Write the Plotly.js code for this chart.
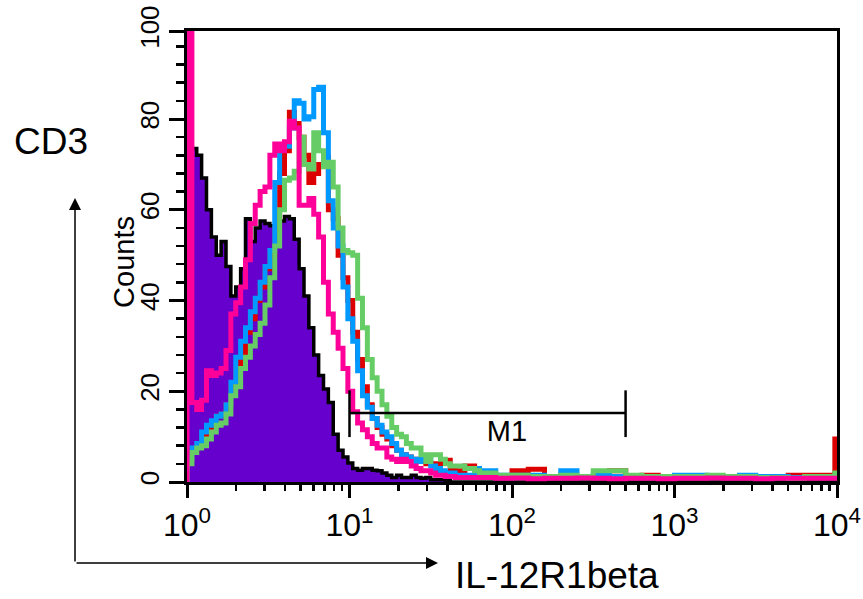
<!DOCTYPE html>
<html>
<head>
<meta charset="utf-8">
<script src="https://cdn.plot.ly/plotly-3.0.1.min.js"></script>
<style>html,body{margin:0;padding:0;background:#fff;}#chart{width:863px;height:599px;}</style>
</head>
<body>
<div id="chart"></div>
<script>
// Histogram bin left edges (fluorescence channel values, log axis)
const binEdges = [1.000,1.072,1.148,1.230,1.318,1.413,1.514,1.622,1.738,1.862,
  1.995,2.138,2.291,2.455,2.630,2.818,3.020,3.236,3.467,3.715,
  3.981,4.266,4.571,4.898,5.248,5.623,6.026,6.457,6.918,7.413,
  7.943,8.511,9.120,9.772,10.47,11.22,12.02,12.88,13.80,14.79,
  15.85,16.98,18.20,19.50,20.89,22.39,23.99,25.70,27.54,29.51,
  31.62,33.88,36.31,38.90,41.69,44.67,47.86,51.29,54.95,58.88,
  63.10,79.43,100.0,125.9,158.5,199.5,251.2,316.2,398.1,501.2,
  631.0,794.3,1000,1259,1585,1995,2512,3162,3981,5012,
  6310,7943,9700];
const axisEnd = 10000;

// Counts per bin for each histogram
const isotypeCounts = [74,73.5,72,67,60,54,50,53,47.5,41,
  43,47,58,53,56,57.5,57,56.5,57,57.5,
  58.5,58,53.5,47,41,34,28,23.5,20.5,17.5,
  10.5,7,5.5,4.2,3,2.6,3,3,2.6,2.5,
  2,1.5,1,1.5,1,1,1.5,1,0.8,1,
  0.5,0.5,0.5,0.3,0,0,0,0,0,0,
  0,0,0,0,0,0,0,0,0,0,
  0,0,0,0,0,0,0,0,0,0,
  0,0,0];
const redCounts = [5,7,8,10,11.5,13,14.5,15,17,21,
  25,28,33,36,40,43,47,50,56,68,
  73,81.5,79,76,72,66,68,70,71.5,60,
  58,50,45,40,33,27,21,17,14,12,
  10.5,9.5,8,7,6,5.5,5,5,4.5,4,
  4,4,4.5,4.8,3,2.5,2.5,3.5,3.5,2,
  1.5,1.2,2.5,2.8,1.2,1.2,1.2,1.2,2.5,1.2,
  1.5,1,1,1,1,1,1,1,1.2,1.5,
  1.5,1.5,9.5];
const blueCounts = [5,7.5,8.5,11,12.5,13.5,14.5,15,17,22,
  27.5,31,34,37.5,40.5,44,47.5,51,66,74,
  74,78,84,83.5,80,80.5,86.5,87,77,62,
  56,52,43,36,31,24.5,19,16.5,14,12.5,
  11,10,8.5,7,6,5.5,5,4.5,5,5,
  3.5,3,2.5,2,2,1.5,1.5,1.5,1.5,3,
  2.5,1.5,1.5,1.5,1.2,2.5,1.2,1.5,1.2,1.2,
  1.2,1.2,1.5,1.5,1.2,1.2,1.5,1.2,1.2,1,
  1,1,1];
const greenCounts = [4,6.5,7.5,8,9.5,11,12.5,13,15,19,
  21,25,27.5,30,32.5,35,39,45,52,60,
  66.5,67,68.5,76,70,69,77,73,69.5,70.5,
  65,56,51,50.5,50,40.5,34,27,23,20,
  17,14.5,12,10.5,10,8.5,7.5,7.5,6,4.5,
  6,6,5,4,3.5,3.5,3.5,3,3,2.5,
  2,1.5,1.5,1.2,1.2,1.5,1.2,2.5,2.5,1.5,
  1.2,1.2,1.2,1.2,1.5,1.2,1.2,1,1,0.8,
  1.2,1.2,2];
const pinkCounts = [100,17.5,16,18,24.5,23.5,24,25,29,37,
  39.5,43,49,57,61,64,65,72,74.5,73,
  75,79.5,78,61,61,62.5,59,54,44,37,
  33,29.5,25,20,15.5,13,11.5,10,8.5,7.5,
  7.5,5.5,5,4.5,5,4.5,3.5,3,2.5,2.5,
  2,1.5,1.5,1.2,1.2,1,1,1,1,1,
  1,0.8,0.9,0.7,0.8,0.8,0.9,0.8,0.7,0.8,
  0.8,0.7,0.8,0.8,0.9,0.8,0.8,0.7,0.8,0.8,
  0.8,0.8,0.8];

// Marker M1
const m1Range = [10, 500];
const m1Level = 15.2;
const m1Bar = [9.9, 20.2];
const m1LabelPos = [93, 10.7];

// Axis ticks
const xTickVals = [1, 10, 100, 1000, 10000];
const xTickText = ['10<sup>0</sup>','10<sup>1</sup>','10<sup>2</sup>','10<sup>3</sup>','10<sup>4</sup>'];
const xMinorVals = [2,3,4,5,6,7,8,9,20,30,40,50,60,70,80,90,200,300,400,500,600,700,800,900,2000,3000,4000,5000,6000,7000,8000,9000];
const yTickVals = [0, 20, 40, 60, 80, 99.4];
const yTickText = ['0','20','40','60','80','100'];

const narrow = 'Liberation Sans Narrow, Arial Narrow, sans-serif';

// step outline: starts on the baseline at the first edge, ends at the axis end
function stepX() { return [binEdges[0]].concat(binEdges, [axisEnd]); }
function stepY(v) { return [0].concat(v, [v[v.length - 1]]); }

function histLine(vals, color) {
  return {x: stepX(), y: stepY(vals), type: 'scatter', mode: 'lines',
    line: {shape: 'hv', color: color, width: 5}, hoverinfo: 'skip', showlegend: false};
}

const traces = [
  {x: stepX(), y: stepY(isotypeCounts), type: 'scatter', mode: 'lines', fill: 'tozeroy',
   fillcolor: 'rgb(102,0,204)', line: {shape: 'hv', color: '#000', width: 3.5}, showlegend: false},
  histLine(redCounts, 'rgb(221,0,0)'),
  histLine(blueCounts, 'rgb(0,153,255)'),
  histLine(greenCounts, 'rgb(102,204,102)'),
  histLine(pinkCounts, 'rgb(255,0,153)'),
  {x: [m1Range[0], m1Range[0], null, m1Range[0], m1Range[1], null, m1Range[1], m1Range[1]],
   y: [m1Bar[0], m1Bar[1], null, m1Level, m1Level, null, m1Bar[0], m1Bar[1]],
   type: 'scatter', mode: 'lines', line: {color: '#000', width: 2.5}, showlegend: false},
  {x: [m1LabelPos[0]], y: [m1LabelPos[1]], type: 'scatter', mode: 'text', text: ['M1'],
   textfont: {family: narrow, size: 29, color: '#000'}, showlegend: false}
];

const layout = {
  width: 863, height: 599,
  margin: {l: 187, r: 26, t: 31, b: 117},
  paper_bgcolor: '#fff', plot_bgcolor: '#fff',
  showlegend: false,
  xaxis: {type: 'log', range: [0, 4], showgrid: false, zeroline: false,
    showline: true, linecolor: '#000', linewidth: 3, mirror: true,
    tickmode: 'array', tickvals: xTickVals, ticktext: xTickText,
    ticks: 'outside', ticklen: 13, tickwidth: 3, tickcolor: '#000',
    tickfont: {family: narrow, size: 32, color: '#000'},
    minor: {tickmode: 'array', tickvals: xMinorVals, ticks: 'outside', ticklen: 6, tickwidth: 2.5, tickcolor: '#000', showgrid: false}
  },
  yaxis: {range: [0, 99.4], showgrid: false, zeroline: false,
    showline: true, linecolor: '#000', linewidth: 3, mirror: true,
    tickmode: 'array', tickvals: yTickVals, ticktext: yTickText, tickangle: -90,
    ticks: 'outside', ticklen: 15, tickwidth: 3, tickcolor: '#000',
    tickfont: {family: narrow, size: 26, color: '#000'},
    minor: {dtick: 4, tick0: 0, ticks: 'outside', ticklen: 8, tickwidth: 2.5, tickcolor: '#000', showgrid: false}
  },
  annotations: [
    {xref: 'paper', yref: 'paper', x: -0.0969, y: 0.488, text: 'Counts', showarrow: false,
     textangle: -90, font: {family: narrow, size: 29, color: '#000'}, xanchor: 'center', yanchor: 'middle'},
    {xref: 'paper', yref: 'paper', x: -0.2092, y: 0.756, text: 'CD3', showarrow: false,
     font: {family: 'Liberation Sans, Arial, sans-serif', size: 37, color: '#000'}, xanchor: 'center', yanchor: 'middle'},
    {xref: 'paper', yref: 'paper', x: 0.4092, y: -0.2084, text: 'IL-12R1beta', showarrow: false,
     font: {family: 'Liberation Sans, Arial, sans-serif', size: 37, color: '#000'}, xanchor: 'left', yanchor: 'middle'},
    {xref: 'paper', yref: 'paper', x: -0.1723, y: 0.6297, text: '', showarrow: true,
     ax: 0, ay: 365, axref: 'pixel', ayref: 'pixel', arrowhead: 2, arrowsize: 1.6, arrowwidth: 1.5, arrowcolor: '#000'},
    {xref: 'paper', yref: 'paper', x: 0.3862, y: -0.1796, text: '', showarrow: true,
     ax: -363, ay: 0, axref: 'pixel', ayref: 'pixel', arrowhead: 2, arrowsize: 1.6, arrowwidth: 1.5, arrowcolor: '#000'}
  ]
};

Plotly.newPlot('chart', traces, layout, {displayModeBar: false, staticPlot: true});
</script>
</body>
</html>
